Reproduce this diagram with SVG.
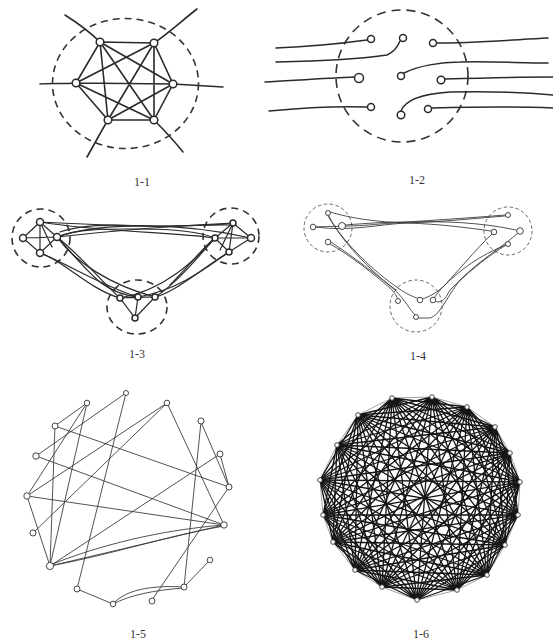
<svg xmlns="http://www.w3.org/2000/svg" width="553" height="642" viewBox="0 0 553 642">
<style>
.l1{fill:none;stroke:#2a2a2a;stroke-width:1.6;stroke-linecap:round}
.l2{fill:none;stroke:#2a2a2a;stroke-width:1.5;stroke-linecap:round}
.l3{fill:none;stroke:#2a2a2a;stroke-width:1.2;stroke-linecap:round}
.l4{fill:none;stroke:#333;stroke-width:0.85;stroke-linecap:round}
.l5{fill:none;stroke:#333;stroke-width:0.85;stroke-linecap:round}
.dT{fill:none;stroke:#333;stroke-width:1.6;stroke-dasharray:7 5}
.dt{fill:none;stroke:#555;stroke-width:0.9;stroke-dasharray:3.5 2.5}
.n{fill:#fff;stroke:#2a2a2a;stroke-width:1.5}
.ns{fill:#fff;stroke:#333;stroke-width:0.9}
.lab{font-family:"Liberation Serif",serif;font-size:12px;fill:#333;text-anchor:middle}
.k6{fill:none;stroke:#151515;stroke-width:1.3;stroke-linecap:round}
.k6p{fill:none;stroke:#8a8a8a;stroke-width:0.8}
</style>

<g id="panel-1-1">
<g id="p1-connectors">
<path class="l1" d="M100,42L154,43L173,84L154,120L108,120L76,83Z"/>
<path class="l1" d="M100,42L154,120M154,43L108,120M76,83L173,84M100,42L108,120M154,43L154,120M100,42L173,84M154,43L76,83M76,83L154,120M173,84L108,120"/>
<path class="l1" d="M100,42C88,30 76,22 65,15M154,43C170,32 185,18 197,9M76,83C62,84 50,83 40,84M173,84C190,85 208,86 223,87M108,120C100,133 94,145 87,157M154,120C165,131 175,142 183,152"/>
</g>
<ellipse class="dT" cx="125.5" cy="83.5" rx="73" ry="65"/>
<g id="p1-nodes">
<circle class="n" cx="100" cy="42" r="3.8"/><circle class="n" cx="154" cy="43" r="3.8"/>
<circle class="n" cx="76" cy="83" r="3.8"/><circle class="n" cx="173" cy="84" r="3.8"/>
<circle class="n" cx="108" cy="120" r="3.8"/><circle class="n" cx="154" cy="120" r="3.8"/>
</g>
<text class="lab" x="142" y="186">1-1</text>
</g>

<g id="panel-1-2">
<circle class="dT" cx="402" cy="76" r="66" style="stroke-dasharray:9 6"/>
<g id="p2-connectors">
<path class="l2" d="M276,48C300,47 330,45 367,40"/>
<path class="l2" d="M276,62C320,61 360,59 387,55C394,52 398,46 400,41"/>
<path class="l2" d="M265,82C300,80 330,78 355,77"/>
<path class="l2" d="M269,111C300,108 340,106 367,107"/>
<path class="l2" d="M437,43C470,43 510,40 548,38"/>
<path class="l2" d="M404,73C418,66 440,62 460,62C490,61 520,63 548,63"/>
<path class="l2" d="M445,79C480,78 520,77 553,77"/>
<path class="l2" d="M401,111C405,100 420,94 450,92C490,91 530,93 553,95"/>
<path class="l2" d="M432,108C470,107 510,106 553,108"/>
</g>
<g id="p2-nodes">
<circle class="n" cx="371" cy="39" r="3.5"/><circle class="n" cx="403" cy="38" r="3.5"/><circle class="n" cx="433" cy="43" r="3.5"/>
<circle class="n" cx="359" cy="78" r="4.5"/><circle class="n" cx="401" cy="76" r="3.5"/><circle class="n" cx="441" cy="80" r="3.8"/>
<circle class="n" cx="371" cy="107" r="3.5"/><circle class="n" cx="401" cy="115" r="3.8"/><circle class="n" cx="428" cy="109" r="3.5"/>
</g>
<text class="lab" x="417" y="184">1-2</text>
</g>

<g id="panel-1-3">
<circle class="dT" cx="41" cy="238" r="29"/>
<circle class="dT" cx="231" cy="236" r="28"/>
<ellipse class="dT" cx="137" cy="307" rx="30" ry="27"/>
<g id="p3-connectors">
<path class="l3" d="M40,222L23,238L40,253L57,237ZM40,222L40,253M23,238L57,237M40,222L52,247"/>
<path class="l3" d="M233,223L215,238L229,252L251,238ZM233,223L229,252M215,238L251,238M233,223L220,250"/>
<path class="l3" d="M120,298L138,297L155,297L135,318ZM120,298L135,318M138,297L135,318M120,298L155,297"/>
<path class="l3" d="M40,222C80,224 120,226 160,226C190,226 215,226 233,223"/>
<path class="l3" d="M57,237C80,228 110,229 140,229C180,229 200,232 215,238"/>
<path class="l3" d="M40,222C100,232 170,232 215,238"/>
<path class="l3" d="M57,237C100,222 180,222 251,238"/>
<path class="l3" d="M57,237C110,231 170,226 233,223"/>
<path class="l3" d="M60,232C80,225 110,224 140,226C170,228 200,224 230,225"/>
<path class="l3" d="M57,237C80,255 100,280 120,298"/>
<path class="l3" d="M40,253C70,265 100,285 138,297"/>
<path class="l3" d="M57,237C75,262 110,285 155,297"/>
<path class="l3" d="M40,253C60,258 90,290 120,298"/>
<path class="l3" d="M57,237C65,245 85,270 100,282C110,290 125,296 138,297"/>
<path class="l3" d="M215,238C200,255 175,285 155,297"/>
<path class="l3" d="M229,252C210,265 180,290 138,297"/>
<path class="l3" d="M215,238C195,260 165,290 120,298"/>
<path class="l3" d="M229,252C200,270 175,292 155,297"/>
<path class="l3" d="M215,238C205,245 190,265 170,285"/>
</g>
<g id="p3-nodes">
<circle class="n" cx="40" cy="222" r="3.5"/><circle class="n" cx="23" cy="238" r="3.5"/><circle class="n" cx="57" cy="237" r="3.5"/><circle class="n" cx="40" cy="253" r="3.5"/>
<circle class="n" cx="233" cy="223" r="3"/><circle class="n" cx="215" cy="238" r="3"/><circle class="n" cx="251" cy="238" r="3.5"/><circle class="n" cx="229" cy="252" r="3"/>
<circle class="n" cx="120" cy="298" r="3"/><circle class="n" cx="138" cy="297" r="3"/><circle class="n" cx="155" cy="297" r="3"/><circle class="n" cx="135" cy="318" r="3"/>
</g>
<text class="lab" x="137" y="358">1-3</text>
</g>

<g id="panel-1-4">
<circle class="dt" cx="328" cy="228" r="24"/>
<circle class="dt" cx="508" cy="231" r="24"/>
<circle class="dt" cx="416" cy="306" r="26"/>
<g id="p4-connectors">
<path class="l4" d="M316,227C350,232 380,224 407,223C440,222 480,218 505,216"/>
<path class="l4" d="M345,225C370,223 390,222 407,222C440,221 480,222 516,230"/>
<path class="l4" d="M330,212C350,218 375,222 407,223C440,224 470,228 491,231"/>
<path class="l4" d="M505,215C470,218 420,221 380,224C350,227 330,226 316,227"/>
<path class="l4" d="M329,216C340,240 370,270 395,290C405,300 410,310 415,315"/>
<path class="l4" d="M330,244C350,255 375,275 390,288C395,293 397,297 398,299"/>
<path class="l4" d="M328,216C345,245 375,272 398,288C408,295 416,298 420,299"/>
<path class="l4" d="M331,242C355,258 378,276 396,290"/>
<path class="l4" d="M492,234C475,250 455,275 440,290C437,294 435,297 434,298"/>
<path class="l4" d="M506,245C480,255 460,270 445,285C435,295 425,298 422,299"/>
<path class="l4" d="M518,233C505,245 480,260 460,280C445,300 440,315 430,318L418,318"/>
<path class="l4" d="M506,245C485,258 465,275 450,290C445,300 440,305 433,300"/>
</g>
<g id="p4-nodes">
<circle class="ns" cx="328" cy="213" r="2.5"/><circle class="ns" cx="313" cy="227" r="2.8"/><circle class="ns" cx="342" cy="226" r="3.5"/><circle class="ns" cx="328" cy="242" r="2.8"/>
<circle class="ns" cx="508" cy="215" r="2.5"/><circle class="ns" cx="494" cy="232" r="2.8"/><circle class="ns" cx="520" cy="231" r="3.3"/><circle class="ns" cx="508" cy="244" r="2.5"/>
<circle class="ns" cx="398" cy="301" r="2.5"/><circle class="ns" cx="420" cy="300" r="2.8"/><circle class="ns" cx="433" cy="300" r="2.8"/><circle class="ns" cx="416" cy="317" r="2.5"/>
</g>
<text class="lab" x="418" y="360">1-4</text>
</g>

<g id="panel-1-5">
<g id="p5-connectors">
<path class="l5" d="M126,393L77,589M126,393L36,456M87,403L55,426M87,403L27,496M87,403L50,566M55,426L50,566M55,426L229,487M36,456L224,525M27,496L167,403M27,496L224,525M27,496L50,566M167,403L33,533M167,403L224,525M201,422L184,587M201,422L229,487M220,454L229,487M220,454L50,566M152,600L229,487M184,587L210,560M77,589L113,604"/>
<path class="l5" d="M50,566L224,525M50,565C100,545 160,530 224,525M50,566C110,555 170,535 224,526"/>
<path class="l5" d="M113,604C125,590 150,585 184,587M113,604C130,595 155,590 184,588"/>
</g>
<g id="p5-nodes">
<circle class="ns" cx="126" cy="393" r="2.5"/><circle class="ns" cx="87" cy="403" r="2.8"/><circle class="ns" cx="167" cy="403" r="2.8"/>
<circle class="ns" cx="55" cy="426" r="3"/><circle class="ns" cx="201" cy="421" r="3"/><circle class="ns" cx="36" cy="456" r="3.2"/>
<circle class="ns" cx="220" cy="454" r="3"/><circle class="ns" cx="27" cy="496" r="3.2"/><circle class="ns" cx="229" cy="487" r="3"/>
<circle class="ns" cx="33" cy="533" r="3"/><circle class="ns" cx="224" cy="525" r="3.2"/><circle class="ns" cx="50" cy="566" r="3.6"/>
<circle class="ns" cx="210" cy="560" r="2.8"/><circle class="ns" cx="77" cy="589" r="3"/><circle class="ns" cx="184" cy="587" r="3"/>
<circle class="ns" cx="113" cy="604" r="2.8"/><circle class="ns" cx="152" cy="601" r="3"/>
</g>
<text class="lab" x="138" y="638">1-5</text>
</g>

<g id="panel-1-6">
<g id="p6-connectors">
<path class="k6p" d="M392,398L432,397L467,407L495,427L510,453L520,482L518,515L505,545L487,575L457,590L417,600L382,587L355,570L333,542L323,515L320,480L337,445L358,415Z"/>
<path class="k6" d="M392,398L467,407M392,398L495,427M392,398L510,453M392,398L520,482M392,398L518,515M392,398L505,545M392,398L487,575M392,398L457,590M392,398L417,600M392,398L382,587M392,398L355,570M392,398L333,542M392,398L323,515M392,398L320,480M392,398L337,445"/>
<path class="k6" d="M432,397L495,427M432,397L510,453M432,397L520,482M432,397L518,515M432,397L505,545M432,397L487,575M432,397L457,590M432,397L417,600M432,397L382,587M432,397L355,570M432,397L333,542M432,397L323,515M432,397L320,480M432,397L337,445M432,397L358,415"/>
<path class="k6" d="M467,407L510,453M467,407L520,482M467,407L518,515M467,407L505,545M467,407L487,575M467,407L457,590M467,407L417,600M467,407L382,587M467,407L355,570M467,407L333,542M467,407L323,515M467,407L320,480M467,407L337,445M467,407L358,415"/>
<path class="k6" d="M495,427L520,482M495,427L518,515M495,427L505,545M495,427L487,575M495,427L457,590M495,427L417,600M495,427L382,587M495,427L355,570M495,427L333,542M495,427L323,515M495,427L320,480M495,427L337,445M495,427L358,415"/>
<path class="k6" d="M510,453L518,515M510,453L505,545M510,453L487,575M510,453L457,590M510,453L417,600M510,453L382,587M510,453L355,570M510,453L333,542M510,453L323,515M510,453L320,480M510,453L337,445M510,453L358,415"/>
<path class="k6" d="M520,482L505,545M520,482L487,575M520,482L457,590M520,482L417,600M520,482L382,587M520,482L355,570M520,482L333,542M520,482L323,515M520,482L320,480M520,482L337,445M520,482L358,415"/>
<path class="k6" d="M518,515L487,575M518,515L457,590M518,515L417,600M518,515L382,587M518,515L355,570M518,515L333,542M518,515L323,515M518,515L320,480M518,515L337,445M518,515L358,415"/>
<path class="k6" d="M505,545L457,590M505,545L417,600M505,545L382,587M505,545L355,570M505,545L333,542M505,545L323,515M505,545L320,480M505,545L337,445M505,545L358,415"/>
<path class="k6" d="M487,575L417,600M487,575L382,587M487,575L355,570M487,575L333,542M487,575L323,515M487,575L320,480M487,575L337,445M487,575L358,415"/>
<path class="k6" d="M457,590L382,587M457,590L355,570M457,590L333,542M457,590L323,515M457,590L320,480M457,590L337,445M457,590L358,415"/>
<path class="k6" d="M417,600L355,570M417,600L333,542M417,600L323,515M417,600L320,480M417,600L337,445M417,600L358,415"/>
<path class="k6" d="M382,587L333,542M382,587L323,515M382,587L320,480M382,587L337,445M382,587L358,415"/>
<path class="k6" d="M355,570L323,515M355,570L320,480M355,570L337,445M355,570L358,415"/>
<path class="k6" d="M333,542L320,480M333,542L337,445M333,542L358,415M323,515L337,445M323,515L358,415M320,480L358,415"/>
</g>
<g id="p6-nodes">
<circle class="ns" cx="392" cy="398" r="2.3"/><circle class="ns" cx="432" cy="397" r="2.3"/><circle class="ns" cx="467" cy="407" r="2.3"/>
<circle class="ns" cx="495" cy="427" r="2.3"/><circle class="ns" cx="510" cy="453" r="2.3"/><circle class="ns" cx="520" cy="482" r="2.3"/>
<circle class="ns" cx="518" cy="515" r="2.3"/><circle class="ns" cx="505" cy="545" r="2.3"/><circle class="ns" cx="487" cy="575" r="2.3"/>
<circle class="ns" cx="457" cy="590" r="2.3"/><circle class="ns" cx="417" cy="600" r="2.3"/><circle class="ns" cx="382" cy="587" r="2.3"/>
<circle class="ns" cx="355" cy="570" r="2.3"/><circle class="ns" cx="333" cy="542" r="2.3"/><circle class="ns" cx="323" cy="515" r="2.3"/>
<circle class="ns" cx="320" cy="480" r="2.3"/><circle class="ns" cx="337" cy="445" r="2.3"/><circle class="ns" cx="358" cy="415" r="2.3"/>
</g>
<text class="lab" x="421" y="638">1-6</text>
</g>
</svg>
